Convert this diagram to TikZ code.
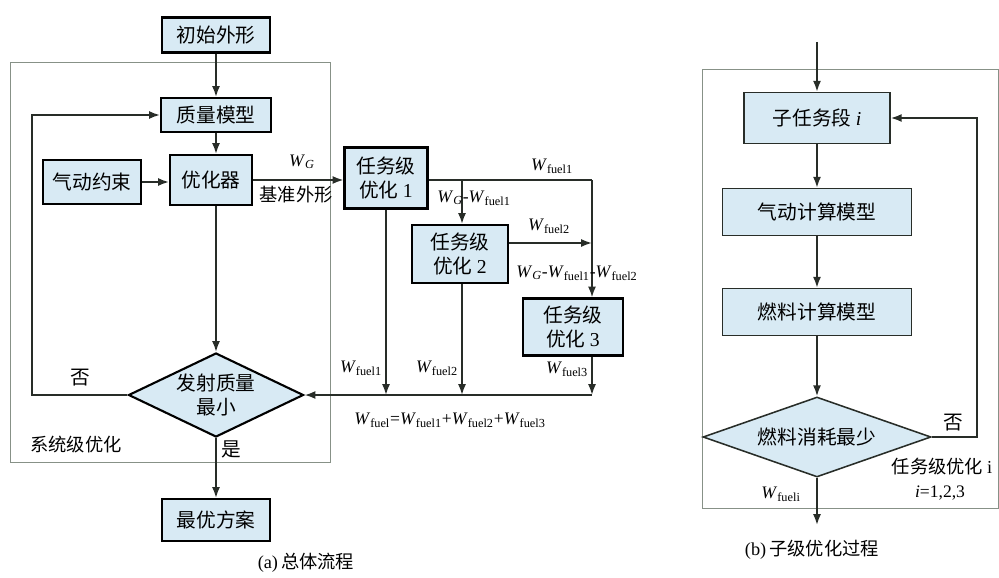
\documentclass[tikz,border=0pt]{standalone}
\usepackage{fontspec}
\setmainfont{Liberation Serif}
\newfontfamily\cjk{Noto Sans CJK SC}
\usetikzlibrary{shapes.geometric,arrows.meta}

\definecolor{boxfill}{RGB}{216,234,244}
\definecolor{linegray}{RGB}{40,45,40}
\definecolor{framegray}{RGB}{135,145,135}

\newcommand{\wfuel}[1]{\textit{W}\textsubscript{fuel#1}}
\newcommand{\wgee}{\textit{W}\textsubscript{\textit{G}}}

\tikzset{
	flow/.style={
			x=0.025cm, y=-0.025cm,
			every node/.style={font=\cjk\fontsize{14}{17}\selectfont, inner sep=0pt},
			blk/.style={rectangle, draw=black, line width=1.5pt, fill=boxfill, align=center},
			sblk/.style={rectangle, draw=linegray, line width=1.1pt, fill=boxfill, align=center},
			dec/.style={diamond, draw=black, line width=1.5pt, fill=boxfill, align=center},
			link/.style={draw=linegray, line width=1.3pt},
			arr/.style={link, -{Latex[length=2.7mm,width=2mm]}},
			frame/.style={draw=framegray, line width=0.6pt},
			wlbl/.style={font=\rmfamily\fontsize{12.5}{14}\selectfont},
			clbl/.style={font=\cjk\fontsize{13}{15}\selectfont},
		}
}

\begin{document}
\begin{tikzpicture}[flow]
	\useasboundingbox (0,0) rectangle (999,578);
	\draw[frame] (10,62) rectangle (330,462);
	\draw[frame] (702,69) rectangle (998,508);

	\node[blk, minimum width=2.7cm, minimum height=0.875cm] (init) at (216,35) {初始外形};
	\node[blk, minimum width=2.75cm, minimum height=0.85cm] (mass) at (216,115) {质量模型};
	\node[blk, minimum width=2.05cm, minimum height=1.25cm] (opt) at (211,180) {优化器};
	\node[blk, minimum width=2.45cm, minimum height=1.1cm] (aero) at (92,182) {气动约束};
	\node[dec, aspect=2.1, minimum width=4.375cm, minimum height=2.1cm] (dia) at (216,395) {发射质量\\最小};
	\node[blk, minimum width=2.7cm, minimum height=1.05cm] (best) at (216,520) {最优方案};

	\node[blk, minimum width=2.075cm, minimum height=1.525cm] (t1) at (386,178) {任务级\\优化 \textrm{1}};
	\node[blk, minimum width=2.4cm, minimum height=1.45cm] (t2) at (460,254) {任务级\\优化 \textrm{2}};
	\node[blk, minimum width=2.5cm, minimum height=1.425cm] (t3) at (573,327) {任务级\\优化 \textrm{3}};

	\node[sblk, minimum width=3.65cm, minimum height=1.275cm] (sub) at (817,118) {子任务段 \textrm{\textit{i}}};
	\node[sblk, minimum width=4.725cm, minimum height=1.175cm] (acalc) at (817,212) {气动计算模型};
	\node[sblk, minimum width=4.725cm, minimum height=1.175cm] (fcalc) at (817,312) {燃料计算模型};
	\node[dec, draw=linegray, line width=1.1pt, aspect=2.85, minimum width=5.7cm, minimum height=2cm] (dia2) at (817,437) {燃料消耗最少};

	\coordinate (fbl) at (32,115);
	\coordinate (j1) at (462,180);
	\coordinate (j2) at (592,180);
	\coordinate (j3) at (592,243);
	\coordinate (s3) at (592,395);
	\coordinate (rin) at (817,42);
	\coordinate (rfb) at (977,118);
	\coordinate (rout) at (817,525);

	\draw[arr] (init) -- (mass);
	\draw[arr] (mass) -- (mass |- opt.north);
	\draw[arr] (aero.east) -- (aero.east -| opt.west);
	\draw[arr] (mass |- opt.south) -- (dia.north);
	\draw[arr] (dia.west) -| (fbl) -- (mass.west);
	\draw[arr] (dia.south) -- (best.north);

	\draw[arr] (opt.east) -- (opt.east -| t1.west);
	\draw[link] (t1.east |- j2) -- (j2);
	\draw[arr] (j2) -- (t3.north -| j2);
	\draw[arr] (j1) -- (t2.north -| j1);
	\draw[arr] (t2.east |- j3) -- (j3);
	\draw[arr] (t1.south) -- (t1.south |- s3);
	\draw[arr] (t2.south -| j1) -- (j1 |- s3);
	\draw[arr] (t3.south -| s3) -- (s3);
	\draw[arr] (s3) -- (dia.east);

	\draw[arr] (rin) -- (sub);
	\draw[arr] (sub) -- (acalc);
	\draw[arr] (acalc) -- (fcalc);
	\draw[arr] (fcalc) -- (dia2);
	\draw[arr] (dia2.east) -| (rfb) -- (sub.east);
	\draw[arr] (dia2.south) -- (rout);

	\node (no1) at (80,378) {否};
	\node (yes1) at (231,449) {是};
	\node[clbl] (syslbl) at (76,445) {系统级优化};
	\node[wlbl] (wg) at (302,162) {\wgee};
	\node[clbl] (base) at (296,195) {基准外形};
	\node[wlbl] (wtop1) at (552,166) {\wfuel{1}};
	\node[wlbl] (wsub1) at (474,198) {\wgee-\wfuel{1}};
	\node[wlbl] (wtop2) at (549,226) {\wfuel{2}};
	\node[wlbl] (wsub2) at (577,273) {\wgee-\wfuel{1}-\wfuel{2}};
	\node[wlbl] (wlow1) at (361,368) {\wfuel{1}};
	\node[wlbl] (wlow2) at (437,368) {\wfuel{2}};
	\node[wlbl] (wlow3) at (567,369) {\wfuel{3}};
	\node[wlbl] (wsum) at (450,420) {\wfuel{}=\wfuel{1}+\wfuel{2}+\wfuel{3}};
	\node[clbl] (capa) at (306,563) {\textrm{(a)}\,总体流程};

	\node (no2) at (953,423) {否};
	\node[clbl] (tlbl) at (942,467) {任务级优化 \textrm{i}};
	\node[wlbl] (ilbl) at (940,493) {\textit{i}=1,2,3};
	\node[wlbl] (wfi) at (781,494) {\wfuel{i}};
	\node[clbl] (capb) at (812,550) {\textrm{(b)}\,子级优化过程};
\end{tikzpicture}
\end{document}
